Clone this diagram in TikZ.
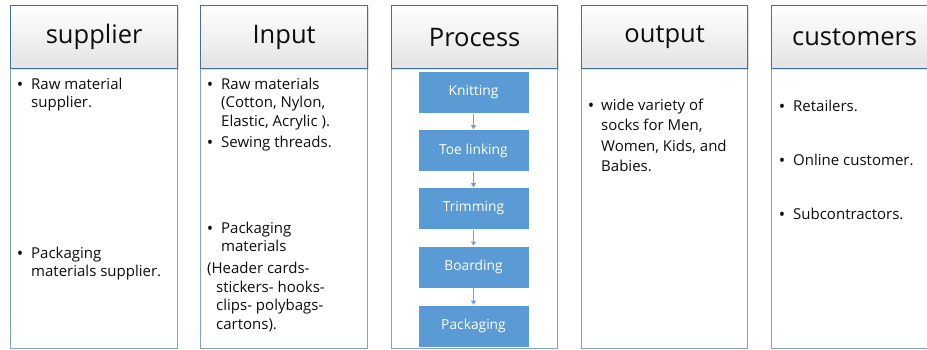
\documentclass[tikz,border=0pt]{standalone}
\usepackage{fontspec}
\setmainfont{Open Sans}
\usetikzlibrary{arrows.meta,shadows}
\definecolor{hdrline}{HTML}{41719C}
\definecolor{bodyline}{HTML}{7EA6C4}
\definecolor{stepblue}{HTML}{5B9BD5}
\definecolor{arrowblue}{HTML}{6FA3D6}
\definecolor{txt}{HTML}{0D0D0D}
% stacked lines whose reference point is the first baseline
\newcommand{\linesof}[1]{\begin{tabular}[t]{@{}l@{}}#1\end{tabular}}
\tikzset{
  hdr/.style={draw=hdrline, line width=1.3pt, top color=white, bottom color=black!11,
    minimum height=63pt, anchor=north west, inner sep=0pt,
    font=\fontsize{25.5}{28}\selectfont, text=txt,
    drop shadow={shadow xshift=1.5pt, shadow yshift=-1.5pt, opacity=0.25}},
  colbody/.style={draw=bodyline, line width=1pt},
  bul/.style={anchor=base, inner sep=0pt, font=\fontsize{17}{18.5}\selectfont, text=txt},
  item/.style={anchor=base west, inner sep=0pt,
    font=\fontsize{15}{18.6}\selectfont, text=txt},
  wideitem/.style={item, font=\fontsize{15}{20.6}\selectfont},
  stepbox/.style={fill=stepblue, draw=white, line width=0.6pt, minimum width=111pt,
    minimum height=42pt, inner sep=0pt, text=white, font=\fontsize{13.8}{15}\selectfont},
  flow/.style={draw=arrowblue, line width=0.8pt, -{Triangle[length=4pt,width=5pt]}}
}
\begin{document}
\begin{tikzpicture}[x=1pt,y=-1pt]
\useasboundingbox (0,0) rectangle (927,349);
\clip (0,0) rectangle (927,349);

% column bodies
\draw[colbody] (10,68) rectangle (177,348);
\draw[colbody] (200,68) rectangle (367,348);
\draw[colbody] (391,68) rectangle (557,348);
\draw[colbody] (581,68) rectangle (747,348);
\draw[colbody] (771,68) rectangle (945,348);

% column headings
\node[hdr, minimum width=167pt] (hsup) at (10,5) {supplier};
\node[hdr, minimum width=167pt] (hin) at (200,5) {Input};
\node[hdr, minimum width=166pt] (hpro) at (391,5) {Process};
\node[hdr, minimum width=166pt] (hout) at (581,5) {output};
\node[hdr, minimum width=174pt] (hcus) at (771,5) {\hspace*{-8pt}customers};

% supplier
\node[bul] (sb1) at (20,90) {•};
\node[item] (s1) at (31,89) {\linesof{Raw material\\supplier.}};
\node[bul] (sb2) at (20,259) {•};
\node[item] (s2) at (31,258) {\linesof{Packaging\\materials supplier.}};

% input
\node[bul] (ib1) at (210,90) {•};
\node[item] (i1) at (221,89) {\linesof{Raw materials\\(Cotton, Nylon,\\Elastic, Acrylic ).}};
\node[bul] (ib2) at (210,148) {•};
\node[item] (i2) at (221,147) {Sewing threads.};
\node[bul] (ib3) at (210,234) {•};
\node[item] (i3) at (221,233) {\linesof{Packaging\\materials}};
\node[item] (i4) at (207,273) {(Header cards-};
\node[item] (i5) at (216,292) {\linesof{stickers- hooks-\\clips- polybags-\\cartons).}};

% process steps
\node[stepbox] (knit) at (473.5,92.5) {Knitting};
\node[stepbox] (toe) at (473.5,150.5) {Toe linking};
\node[stepbox] (trim) at (473.5,208.5) {Trimming};
\node[stepbox] (board) at (473.5,267) {Boarding};
\node[stepbox] (pack) at (473.5,326) {Packaging};
\draw[flow] (knit) -- (toe);
\draw[flow] (toe) -- (trim);
\draw[flow] (trim) -- (board);
\draw[flow] (board) -- (pack);

% output
\node[bul] (ob1) at (591,111) {•};
\node[wideitem] (o1) at (601,110) {\linesof{wide variety of\\socks for Men,\\Women, Kids, and\\Babies.}};

% customers
\node[bul] (cb1) at (782,112) {•};
\node[item] (c1) at (793,111) {Retailers.};
\node[bul] (cb2) at (782,166) {•};
\node[item] (c2) at (793,165) {Online customer.};
\node[bul] (cb3) at (782,220) {•};
\node[item] (c3) at (793,219) {Subcontractors.};
\end{tikzpicture}
\end{document}
